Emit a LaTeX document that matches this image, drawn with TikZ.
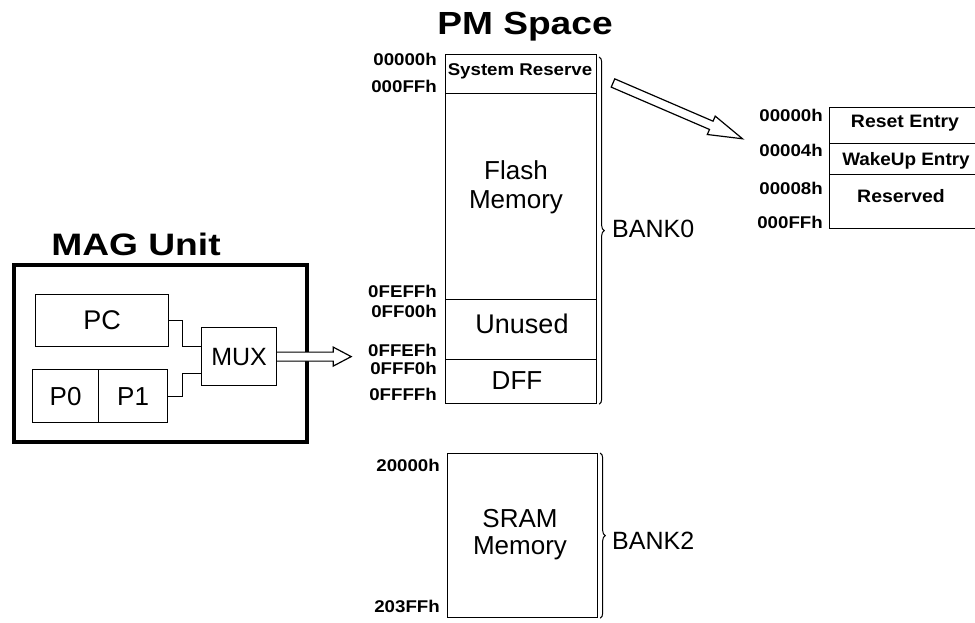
\documentclass[tikz,border=0pt]{standalone}
\usepackage{fontspec}
\setmainfont{Liberation Sans}
\usetikzlibrary{calc,decorations.pathreplacing}
\tikzset{
  box/.style={draw=black, line width=1.2pt, anchor=north west, inner sep=0pt},
  addr/.style={font=\fontsize{17}{17}\selectfont\bfseries, anchor=east, inner sep=0pt},
  lbl/.style={font=\fontsize{26}{28}\selectfont, align=center, inner sep=0pt},
  small/.style={font=\fontsize{18}{18}\selectfont\bfseries, inner sep=0pt},
  title/.style={font=\fontsize{31}{31}\selectfont\bfseries, inner sep=0pt},
  wire/.style={line width=1.2pt},
  hollow/.style={line width=1.2pt, fill=white, line join=miter},
  bracket/.style={decorate, decoration={brace, amplitude=5pt}, line width=1pt},
  bank/.style={font=\fontsize{25}{25}\selectfont, anchor=west, inner sep=0pt},
}
\newcommand{\wx}[1]{\scalebox{1.1}[1]{#1}}
\begin{document}
\begin{tikzpicture}[x=1pt,y=-1pt]
\useasboundingbox (0,0) rectangle (975,622);

% ---------------- MAG Unit ----------------
\node[title] (magt) at (136,244) {\scalebox{1.2}[1]{MAG Unit}};
\node[box, line width=3.5pt, minimum width=293, minimum height=177] (mag) at (12,263) {};
\node[box, lbl, font=\fontsize{27}{28}\selectfont, anchor=north west, minimum width=133, minimum height=52] (pc) at (35,294) {PC};
\node[box, lbl, anchor=north west, minimum width=66, minimum height=53] (p0) at (32,369) {P0};
\node[box, lbl, anchor=north west, minimum width=69, minimum height=53] (p1) at (98,369) {P1};
\node[box, lbl, font=\fontsize{25}{28}\selectfont, anchor=north west, minimum width=75, minimum height=58] (mux) at (201,327) {MUX};
\coordinate (min1) at ($(mux.north west)!0.33!(mux.south west)$);
\coordinate (min2) at ($(mux.north west)!0.78!(mux.south west)$);
\draw[wire] (pc.east) -- ++(13,0) |- (min1);
\draw[wire] (p1.east) -- ++(14,0) |- (min2);
\draw[hollow, shift={(mux.east)}] (0,-4.5) -- (56,-4.5) -- (56,-9.5) -- (74,0) -- (56,9.5) -- (56,4.5) -- (0,4.5);

% ---------------- PM Space ----------------
\node[title, font=\fontsize{32}{32}\selectfont\bfseries] (pmt) at (525,27) {\scalebox{1.16}[1]{PM Space}};
\node[box, minimum width=151, minimum height=39] (sys) at (445,54) {};
\node[box, minimum width=151, minimum height=206] (flash) at (445,93) {};
\node[box, minimum width=151, minimum height=60] (unused) at (445,299) {};
\node[box, minimum width=151, minimum height=44] (dff) at (445,359) {};
\node[small, font=\fontsize{17}{17}\selectfont\bfseries] (syst) at (520,71) {\wx{System Reserve}};
\node[lbl, font=\fontsize{26}{29}\selectfont] (flasht) at (516,187) {Flash\\Memory};
\node[lbl, font=\fontsize{27}{28}\selectfont] (unusedt) at (522,324) {Unused};
\node[lbl] (dfft) at (517,381) {DFF};

\node[addr] (a1) at (437,59) {\wx{00000h}};
\node[addr] (a2) at (437,86) {\wx{000FFh}};
\node[addr] (a3) at (437,291) {\wx{0FEFFh}};
\node[addr] (a4) at (437,311) {\wx{0FF00h}};
\node[addr] (a5) at (437,350) {\wx{0FFEFh}};
\node[addr] (a6) at (437,368) {\wx{0FFF0h}};
\node[addr] (a7) at (437,394) {\wx{0FFFFh}};

\draw[bracket] ($(sys.north east)+(2,3)$) -- ($(dff.south east)+(2,0)$);
\node[bank] (bank0) at (612,229) {BANK0};

% SRAM
\node[box, minimum width=150, minimum height=164] (sram) at (447,453) {};
\node[lbl, font=\fontsize{26}{27}\selectfont] (sramt) at (520,535) {SRAM\\Memory};
\node[addr] (a8) at (440,465) {\wx{20000h}};
\node[addr] (a9) at (440,606) {\wx{203FFh}};
\draw[bracket] ($(sram.north east)+(2,0)$) -- ($(sram.south east)+(2,0)$);
\node[bank] (bank2) at (612,541) {BANK2};

% ---------------- vector table ----------------
\coordinate (a2s) at (613,83);
\draw[hollow, shift={(a2s)}, rotate=-23.3] (0,-4.5) -- (107,-4.5) -- (107,-10) -- (141,0) -- (107,10) -- (107,4.5) -- (0,4.5) -- cycle;

\node[box, minimum width=160, minimum height=36] (reset) at (829,107) {};
\node[box, minimum width=160, minimum height=31] (wake) at (829,143) {};
\node[box, minimum width=160, minimum height=54] (resv) at (829,174) {};
\node[small] (resett) at (905,123) {\scalebox{1.08}[1]{Reset Entry}};
\node[small] (waket) at (906,161) {\scalebox{1.05}[1]{WakeUp Entry}};
\node[small] (resvt) at (901,196) {\scalebox{1.08}[1]{Reserved}};
\node[addr] (b1) at (823,115) {\wx{00000h}};
\node[addr] (b2) at (823,150) {\wx{00004h}};
\node[addr] (b3) at (823,188) {\wx{00008h}};
\node[addr] (b4) at (823,222) {\wx{000FFh}};
\end{tikzpicture}
\end{document}
